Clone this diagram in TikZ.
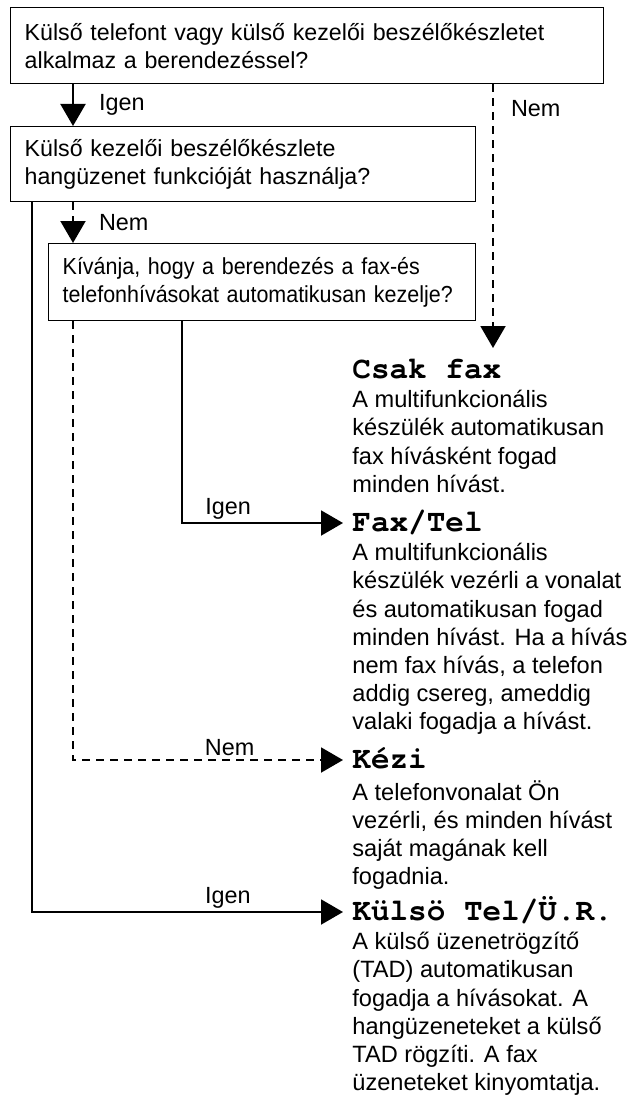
\documentclass[tikz,border=0pt]{standalone}
\usepackage{fontspec}
\setmainfont{Liberation Sans}
\newfontfamily\narrowfont{Liberation Sans}[FakeStretch=0.925]
\newfontfamily\headfont{texgyrecursor}[Extension=.otf, UprightFont=*-regular, BoldFont=*-bold]
\usetikzlibrary{arrows.meta,positioning}
\tikzset{
  question/.style={draw, line width=0.7pt, anchor=north west, align=left,
    inner xsep=7pt, inner ysep=0pt, font=\fontsize{11.6}{14}\selectfont},
  head/.style={anchor=west, inner xsep=4.5pt, inner ysep=0pt, text height=8.5pt,
    text depth=0pt, font=\headfont\bfseries\fontsize{15.5}{16}\selectfont},
  desc/.style={anchor=north west, inner sep=0pt, align=left,
    font=\fontsize{11.8}{14.1}\selectfont},
  lbl/.style={inner sep=0pt, font=\fontsize{11.7}{14}\selectfont},
  yesarrow/.style={line width=1pt, -{Triangle[width=12.5pt,length=11pt]}},
  noarrow/.style={yesarrow, dash pattern=on 4pt off 3pt},
}
\begin{document}
\begin{tikzpicture}[x=0.5pt, y=-0.5pt]
  \useasboundingbox (0,0) rectangle (629,1097);
  % questions
  \node[question, minimum width=296.5pt, minimum height=38pt, text width=282.5pt] (q1) at (10,7)
    {Külső telefont vagy külső kezelői beszélőkészletet\\alkalmaz a berendezéssel?};
  \node[question, minimum width=232.5pt, minimum height=37.5pt, text width=218.5pt] (q2) at (10,126)
    {Külső kezelői beszélőkészlete\\hangüzenet funkcióját használja?};
  \node[question, minimum width=213.5pt, minimum height=38.5pt, text width=199.5pt,
    font=\narrowfont\fontsize{11.6}{14}\selectfont] (q3) at (48,243)
    {Kívánja, hogy a berendezés a fax-és\\telefonhívásokat automatikusan kezelje?};
  % modes
  \node[head] (fax) at (343,370) {Csak fax};
  \node[head] (faxtel) at (343,523) {Fax/Tel};
  \node[head] (manual) at (343,760) {Kézi};
  \node[head] (ext) at (343,912) {Külsö Tel/Ü.R.};
  \node[desc] (faxd) at (352,390)
    {A multifunkcionális\\készülék automatikusan\\fax hívásként fogad\\minden hívást.};
  \node[desc] (faxteld) at (352,543)
    {A multifunkcionális\\készülék vezérli a vonalat\\és automatikusan fogad\\minden hívást. Ha a hívás\\nem fax hívás, a telefon\\addig csereg, ameddig\\valaki fogadja a hívást.};
  \node[desc] (manuald) at (352,780)
    {A telefonvonalat Ön\\vezérli, és minden hívást\\saját magának kell\\fogadnia.};
  \node[desc] (extd) at (352,932)
    {A külső üzenetrögzítő\\(TAD) automatikusan\\fogadja a hívásokat. A\\hangüzeneteket a külső\\TAD rögzíti. A fax\\üzeneteket kinyomtatja.};
  % columns
  \coordinate (ca) at (32,0);
  \coordinate (cb) at (73,0);
  \coordinate (cc) at (182,0);
  \coordinate (faxtip) at (493,348);
  % answers
  \draw[yesarrow] (q1.south -| cb) -- node[lbl, right=12.5pt] {Igen} (q2.north -| cb);
  \draw[noarrow] (q1.south -| faxtip) -- node[lbl, pos=0.09, right=8.5pt] {Nem} (faxtip);
  \draw[noarrow] (q2.south -| cb) -- node[lbl, right=12.5pt] {Nem} (q3.north -| cb);
  \draw[yesarrow] (q3.south -| cc) |- node[lbl, pos=0.643, above=1.5pt] {Igen} (faxtel.west);
  \draw[noarrow] (q3.south -| cb) |- node[lbl, pos=0.79, above=1.5pt] {Nem} (manual.west);
  \draw[yesarrow] (q2.south -| ca) |- node[lbl, pos=0.815, above=1.5pt] {Igen} (ext.west);
\end{tikzpicture}
\end{document}
